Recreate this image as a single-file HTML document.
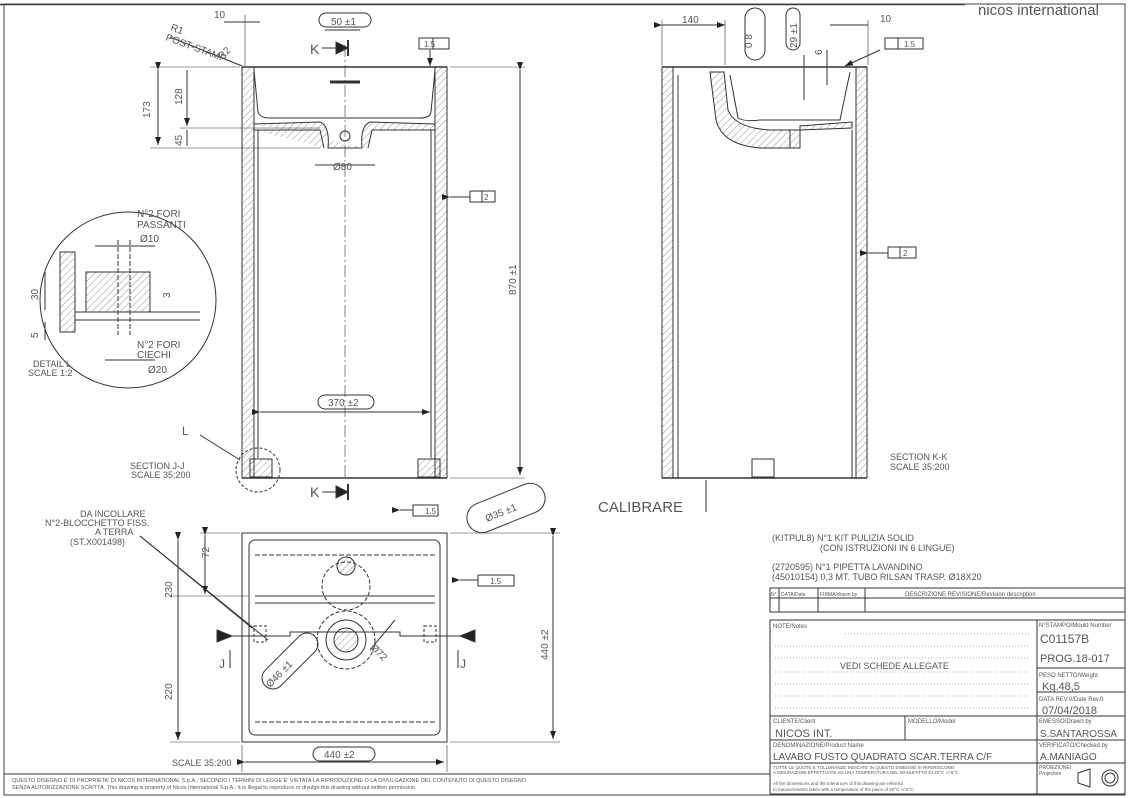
<!DOCTYPE html>
<html><head><meta charset="utf-8"><style>
html,body{margin:0;padding:0;background:#fff;}
svg{display:block;}
text{font-family:"Liberation Sans",sans-serif;fill:#555;}
</style></head><body>
<svg width="1129" height="798" viewBox="0 0 1129 798" xmlns="http://www.w3.org/2000/svg">
<defs>
<pattern id="h" width="5" height="5" patternUnits="userSpaceOnUse" patternTransform="rotate(45)"><line x1="0" y1="0" x2="0" y2="5" stroke="#666" stroke-width="0.7"/></pattern>
<marker id="a" markerWidth="8" markerHeight="6" refX="8" refY="3" orient="auto"><path d="M0,0 L8,3 L0,6z" fill="#222"/></marker>
</defs>
<g fill="none" stroke="#333" stroke-width="1">
<!-- frame -->
<line x1="0" y1="4.5" x2="965" y2="4.5" stroke-width="1.5"/>
<rect x="4" y="4" width="1121" height="791" stroke="#444"/>
<line x1="4" y1="774" x2="770" y2="774"/>

<!-- FRONT VIEW -->
<rect x="242" y="67" width="12" height="411" fill="url(#h)"/>
<rect x="435" y="67" width="12" height="411" fill="url(#h)"/>
<line x1="242" y1="67" x2="447" y2="67" stroke-width="1.5"/>
<path d="M254,70 L258,112 Q260,118 270,118 L420,118 Q430,118 431,112 L435,70"/>
<path d="M254,124 L320,122 Q330,126 328,148 L362,148 Q360,126 370,122 L435,124 L435,130 L372,130 L368,148 M254,130 L320,130 L324,148" fill="url(#h)"/>
<circle cx="345" cy="136" r="5"/>
<line x1="258" y1="130" x2="258" y2="458"/><line x1="431" y1="130" x2="431" y2="458"/>
<line x1="242" y1="478" x2="447" y2="478" stroke-width="1.5"/>
<rect x="250" y="459" width="22" height="18" fill="url(#h)"/>
<rect x="418" y="459" width="22" height="18" fill="url(#h)"/>
<line x1="330" y1="82" x2="360" y2="82" stroke-width="3"/>
<line x1="345" y1="45" x2="345" y2="478" stroke-dasharray="12,3,2,3" stroke-width="0.6"/>
<!-- dims front -->
<line x1="150" y1="67" x2="240" y2="67" stroke-width="0.6"/>
<line x1="150" y1="148" x2="320" y2="148" stroke-width="0.6"/>
<line x1="180" y1="128" x2="320" y2="128" stroke-width="0.6"/>
<line x1="158" y1="70" x2="158" y2="145" marker-start="url(#a)" marker-end="url(#a)"/>
<line x1="187" y1="70" x2="187" y2="126" marker-end="url(#a)"/>
<line x1="187" y1="130" x2="187" y2="146"/>
<line x1="450" y1="67" x2="525" y2="67" stroke-width="0.6"/>
<line x1="450" y1="478" x2="525" y2="478" stroke-width="0.6"/>
<line x1="520" y1="70" x2="520" y2="475" marker-start="url(#a)" marker-end="url(#a)"/>
<line x1="260" y1="412" x2="430" y2="412" marker-start="url(#a)" marker-end="url(#a)"/>
<line x1="315" y1="165" x2="375" y2="165" />
<line x1="325" y1="30" x2="360" y2="30"/>
<line x1="224" y1="22" x2="260" y2="22"/>
<line x1="245" y1="15" x2="245" y2="66" stroke-width="0.6"/>
<line x1="170" y1="37" x2="242" y2="66"/>
<line x1="430" y1="50" x2="430" y2="66" marker-end="url(#a)"/>
<rect x="419" y="38" width="30" height="11"/><line x1="433" y1="38" x2="433" y2="49"/>
<line x1="450" y1="197" x2="470" y2="197" marker-start="url(#a)"/><rect x="470" y="191" width="25" height="11"/><line x1="482" y1="191" x2="482" y2="202"/>
<rect x="319" y="13" width="52" height="14" rx="7"/>
<path d="M336,42 L348,48 L336,54z" fill="#222"/><line x1="348" y1="40" x2="348" y2="56" stroke-width="2"/><line x1="322" y1="48" x2="336" y2="48"/>
<path d="M336,486 L348,492 L336,498z" fill="#222"/><line x1="348" y1="484" x2="348" y2="500" stroke-width="2"/><line x1="322" y1="492" x2="336" y2="492"/>
<rect x="318" y="395" width="56" height="14" rx="7"/>
<circle cx="258" cy="470" r="22" stroke-dasharray="3,2"/>
<line x1="200" y1="435" x2="240" y2="460"/>

<!-- DETAIL L -->
<circle cx="128" cy="300" r="88"/>
<rect x="60" y="252" width="15" height="80" fill="url(#h)"/>
<rect x="86" y="272" width="64" height="40" fill="url(#h)"/>
<line x1="75" y1="312" x2="200" y2="312"/>
<line x1="75" y1="320" x2="200" y2="320"/>
<line x1="118" y1="240" x2="118" y2="335" stroke-dasharray="5,2"/><line x1="130" y1="240" x2="130" y2="335" stroke-dasharray="5,2"/>
<line x1="95" y1="246" x2="155" y2="246"/>
<line x1="105" y1="360" x2="155" y2="360"/>
<line x1="45" y1="272" x2="45" y2="310"/><line x1="45" y1="322" x2="45" y2="340"/>

<!-- SIDE VIEW -->
<rect x="662" y="67" width="11" height="411" fill="url(#h)"/>
<rect x="856" y="67" width="11" height="411" fill="url(#h)"/>
<line x1="662" y1="67" x2="867" y2="67" stroke-width="1.5"/>
<line x1="678" y1="75" x2="678" y2="478"/><line x1="852" y1="130" x2="852" y2="478"/>
<path d="M710,72 L716,120 Q722,145 760,148 L790,148 L790,130 L770,130 Q735,128 728,110 L724,72z" fill="url(#h)"/>
<path d="M730,75 L738,118 Q745,122 760,120 L840,120 L850,72"/>
<path d="M800,130 L852,128 L852,122 L800,126z" fill="url(#h)"/>
<path d="M790,130 L800,130 L800,148 L790,148z" fill="url(#h)"/>
<line x1="662" y1="478" x2="867" y2="478" stroke-width="1.5"/>
<rect x="752" y="459" width="22" height="18"/>
<line x1="662" y1="25" x2="725" y2="25" marker-start="url(#a)" marker-end="url(#a)"/>
<line x1="662" y1="20" x2="662" y2="65" stroke-width="0.6"/><line x1="725" y1="20" x2="725" y2="65" stroke-width="0.6"/>
<line x1="830" y1="25" x2="868" y2="25"/><line x1="868" y1="20" x2="868" y2="65" stroke-width="0.6"/>
<rect x="745" y="8" width="20" height="52" rx="10"/>
<rect x="786" y="8" width="14" height="42" rx="7"/>
<line x1="804" y1="55" x2="804" y2="100"/>
<line x1="827" y1="50" x2="827" y2="85"/>
<line x1="880" y1="50" x2="845" y2="66" marker-end="url(#a)"/><rect x="885" y="38" width="38" height="11"/><line x1="898" y1="38" x2="898" y2="49"/>
<line x1="868" y1="253" x2="888" y2="253" marker-start="url(#a)"/><rect x="888" y="247" width="28" height="11"/><line x1="900" y1="247" x2="900" y2="258"/>
<line x1="706" y1="480" x2="706" y2="512"/>

<!-- TOP VIEW -->
<rect x="242" y="533" width="205" height="209"/>
<rect x="249" y="540" width="191" height="195" rx="6"/>
<line x1="255" y1="555" x2="435" y2="555" stroke-dasharray="5,2"/>
<line x1="255" y1="596" x2="435" y2="596"/>
<line x1="255" y1="603" x2="435" y2="603"/>
<line x1="255" y1="722" x2="435" y2="722" stroke-dasharray="5,2"/>
<circle cx="346" cy="566" r="9" fill="url(#h)"/>
<circle cx="346" cy="586" r="24" stroke-dasharray="4,2"/>
<circle cx="346" cy="640" r="12" fill="url(#h)"/>
<circle cx="346" cy="640" r="20"/>
<circle cx="346" cy="640" r="29" stroke-dasharray="4,2"/>
<path d="M222,636 L290,636 L290,632 L400,632 L400,636 L470,636"/>
<path d="M217,630 L232,636 L217,642z" fill="#222"/><path d="M475,630 L460,636 L475,642z" fill="#222"/>
<rect x="254" y="626" width="12" height="16" stroke-dasharray="3,2"/><rect x="424" y="626" width="12" height="16" stroke-dasharray="3,2"/>
<line x1="200" y1="533" x2="240" y2="533" stroke-width="0.6"/>
<line x1="170" y1="596" x2="248" y2="596" stroke-width="0.6"/>
<line x1="170" y1="742" x2="240" y2="742" stroke-width="0.6"/>
<line x1="205" y1="535" x2="205" y2="594" marker-start="url(#a)" marker-end="url(#a)"/>
<line x1="178" y1="540" x2="178" y2="640" marker-start="url(#a)"/>
<line x1="178" y1="640" x2="178" y2="740" marker-end="url(#a)"/>
<line x1="450" y1="533" x2="560" y2="533" stroke-width="0.6"/><line x1="450" y1="742" x2="560" y2="742" stroke-width="0.6"/>
<line x1="553" y1="536" x2="553" y2="739" marker-start="url(#a)" marker-end="url(#a)"/>
<line x1="242" y1="745" x2="242" y2="772" stroke-width="0.6"/><line x1="447" y1="745" x2="447" y2="772" stroke-width="0.6"/>
<line x1="245" y1="762" x2="444" y2="762" marker-start="url(#a)" marker-end="url(#a)"/>
<rect x="313" y="747" width="62" height="14" rx="7"/>
<rect x="465" y="493" width="82" height="30" rx="15" transform="rotate(-22 506 508)"/>
<rect x="255" y="650" width="70" height="22" rx="11" transform="rotate(-45 290 661)"/>
<line x1="370" y1="650" x2="395" y2="620"/>
<line x1="400" y1="510" x2="413" y2="510" marker-start="url(#a)"/><rect x="413" y="505" width="25" height="11"/>
<line x1="460" y1="580" x2="478" y2="580" marker-start="url(#a)"/><rect x="478" y="575" width="36" height="11"/>
<line x1="140" y1="536" x2="252" y2="628"/><line x1="140" y1="536" x2="268" y2="640"/>
<line x1="458" y1="650" x2="458" y2="668"/><line x1="230" y1="650" x2="230" y2="668"/>

<!-- TITLE BLOCK -->
<rect x="770" y="588" width="355" height="24"/>
<line x1="770" y1="598" x2="1125" y2="598"/>
<line x1="779" y1="588" x2="779" y2="612"/><line x1="818" y1="588" x2="818" y2="612"/><line x1="865" y1="588" x2="865" y2="612"/>
<rect x="770" y="620" width="355" height="174"/>
<line x1="1037" y1="620" x2="1037" y2="794"/>
<line x1="1037" y1="668" x2="1125" y2="668"/>
<line x1="1037" y1="692" x2="1125" y2="692"/>
<line x1="770" y1="716" x2="1125" y2="716"/>
<line x1="770" y1="740" x2="1125" y2="740"/>
<line x1="770" y1="763" x2="1125" y2="763"/>
<line x1="905" y1="716" x2="905" y2="740"/>
<path d="M1078,773 L1090,769 L1090,787 L1078,783z"/>
<circle cx="1110" cy="778" r="8"/><circle cx="1110" cy="778" r="5"/>
</g>
<g stroke="#999" stroke-dasharray="1,2" stroke-width="0.8">
<line x1="845" y1="634" x2="1030" y2="634"/><line x1="775" y1="646" x2="1030" y2="646"/>
<line x1="775" y1="658" x2="1030" y2="658"/><line x1="775" y1="672" x2="1030" y2="672"/>
<line x1="775" y1="684" x2="1030" y2="684"/><line x1="775" y1="696" x2="1030" y2="696"/>
<line x1="775" y1="708" x2="1030" y2="708"/>
</g>
<g font-size="10">
<text x="978" y="15" font-size="15" fill="#111" style="font-family:'Liberation Sans',sans-serif">nicos international</text>
<text x="214" y="18">10</text>
<text x="331" y="25">50 ±1</text>
<text x="310" y="54" font-size="14">K</text>
<text x="310" y="497" font-size="14">K</text>
<text x="170" y="30" transform="rotate(20 170 30)">R1</text>
<text x="165" y="40" transform="rotate(20 165 40)">POST-STAMP</text>
<text x="222" y="60" transform="rotate(-45 222 60)">R2</text>
<text x="424" y="47" font-size="8">1.5</text>
<text x="484" y="200" font-size="8">2</text>
<text x="150" y="118" transform="rotate(-90 150 118)">173</text>
<text x="182" y="105" transform="rotate(-90 182 105)">128</text>
<text x="182" y="146" transform="rotate(-90 182 146)">45</text>
<text x="333" y="170">Ø80</text>
<text x="516" y="295" transform="rotate(-90 516 295)">870 ±1</text>
<text x="328" y="406">370 ±2</text>
<text x="137" y="217">N°2 FORI</text><text x="137" y="228">PASSANTI</text>
<text x="140" y="242">Ø10</text>
<text x="38" y="300" transform="rotate(-90 38 300)">30</text>
<text x="38" y="338" transform="rotate(-90 38 338)">5</text>
<text x="170" y="298" transform="rotate(-90 170 298)">3</text>
<text x="137" y="348">N°2 FORI</text><text x="137" y="358">CIECHI</text>
<text x="148" y="373">Ø20</text>
<text x="33" y="367" font-size="9">DETAIL L</text><text x="28" y="376" font-size="9">SCALE 1:2</text>
<text x="182" y="435" font-size="12">L</text>
<text x="130" y="469" font-size="9">SECTION J-J</text><text x="131" y="478" font-size="9">SCALE 35:200</text>
<text x="682" y="23">140</text>
<text x="752" y="48" transform="rotate(-90 752 48)">0 8</text>
<text x="797" y="48" transform="rotate(-90 797 48)">29 ±1</text>
<text x="822" y="55" transform="rotate(-90 822 55)">6</text>
<text x="880" y="22">10</text>
<text x="904" y="47" font-size="8">1.5</text>
<text x="903" y="256" font-size="8">2</text>
<text x="890" y="460" font-size="9">SECTION K-K</text><text x="890" y="470" font-size="9">SCALE 35:200</text>
<text x="598" y="512" font-size="15">CALIBRARE</text>
<text x="80" y="517" font-size="9">DA INCOLLARE</text>
<text x="45" y="526" font-size="9">N°2-BLOCCHETTO FISS.</text>
<text x="95" y="535" font-size="9">A TERRA</text>
<text x="70" y="545" font-size="9">(ST.X001498)</text>
<text x="487" y="522" transform="rotate(-22 487 522)">Ø35 ±1</text>
<text x="425" y="514" font-size="8">1.5</text>
<text x="490" y="584" font-size="8">1.5</text>
<text x="209" y="558" transform="rotate(-90 209 558)">72</text>
<text x="172" y="598" transform="rotate(-90 172 598)">230</text>
<text x="172" y="700" transform="rotate(-90 172 700)">220</text>
<text x="548" y="660" transform="rotate(-90 548 660)">440 ±2</text>
<text x="270" y="688" transform="rotate(-45 270 688)">Ø46 ±1</text>
<text x="370" y="648" transform="rotate(45 370 648)">Ø72</text>
<text x="219" y="668" font-size="12">J</text><text x="460" y="668" font-size="12">J</text>
<text x="172" y="766" font-size="9">SCALE 35:200</text>
<text x="324" y="758">440 ±2</text>
<text x="772" y="541" font-size="9">(KITPUL8) N°1 KIT PULIZIA SOLID</text>
<text x="820" y="551" font-size="9">(CON ISTRUZIONI IN 6 LINGUE)</text>
<text x="772" y="570" font-size="9">(2720595) N°1 PIPETTA LAVANDINO</text>
<text x="772" y="580" font-size="9">(45010154) 0,3 MT. TUBO RILSAN TRASP. Ø18X20</text>
<text x="771" y="596" font-size="5">N°</text><text x="781" y="596" font-size="5">DATA/Date</text><text x="820" y="596" font-size="5">FIRMA/drawn by</text>
<text x="905" y="596" font-size="6">DESCRIZIONE REVISIONE/Revision description</text>
<text x="773" y="628" font-size="6">NOTE/Notes</text>
<text x="840" y="669" font-size="9">VEDI SCHEDE ALLEGATE</text>
<text x="1039" y="627" font-size="6">N°STAMPO/Mould Number</text>
<text x="1040" y="643" font-size="12" fill="#222">C01157B</text>
<text x="1040" y="662" font-size="11" fill="#777">PROG.18-017</text>
<text x="1039" y="677" font-size="6">PESO NETTO/Weight</text>
<text x="1042" y="690" font-size="11" fill="#777">Kg.48,5</text>
<text x="1039" y="701" font-size="6">DATA REV.0/Date Rev.0</text>
<text x="1042" y="714" font-size="11" fill="#777">07/04/2018</text>
<text x="773" y="723" font-size="6">CLIENTE/Client</text><text x="908" y="723" font-size="6">MODELLO/Model</text>
<text x="775" y="737" font-size="11" fill="#777">NICOS INT.</text>
<text x="1039" y="723" font-size="6">EMESSO/Drawn by</text>
<text x="1040" y="737" font-size="10" fill="#777">S.SANTAROSSA</text>
<text x="773" y="747" font-size="6">DENOMINAZIONE/Product Name</text>
<text x="773" y="760" font-size="10" fill="#777">LAVABO FUSTO QUADRATO SCAR.TERRA C/F</text>
<text x="1039" y="747" font-size="6">VERIFICATO/Checked by</text>
<text x="1040" y="760" font-size="10" fill="#777">A.MANIAGO</text>
<text x="773" y="769" font-size="4.5">TUTTE LE QUOTE E TOLLERANZE INDICATE IN QUESTO DISEGNO SI RIFERISCONO</text>
<text x="773" y="774" font-size="4.5">A MISURAZIONI EFFETTUATE AD UNA TEMPERATURA DEL MANUFATTO DI 20°C +/-5°C.</text>
<text x="773" y="785" font-size="4.5">All the dimensions and the tolerances of this drawing are referred</text>
<text x="773" y="791" font-size="4.5">to measurements taken with a temperature of the piece of 20°C +/-5°C.</text>
<text x="1039" y="769" font-size="5">PROIEZIONE/</text><text x="1039" y="775" font-size="5">Projection</text>
<text x="12" y="782" font-size="5.5">QUESTO DISEGNO E' DI PROPRIETA' DI NICOS INTERNATIONAL S.p.A.; SECONDO I TERMINI DI LEGGE E' VIETATA LA RIPRODUZIONE O LA DIVULGAZIONE DEL CONTENUTO DI QUESTO DISEGNO</text>
<text x="12" y="789" font-size="5.5">SENZA AUTORIZZAZIONE SCRITTA. This drawing is property of Nicos International S.p.A.; it is illegal to reproduce or divulge this drawing without written permission.</text>
</g>
</svg>
</body></html>
